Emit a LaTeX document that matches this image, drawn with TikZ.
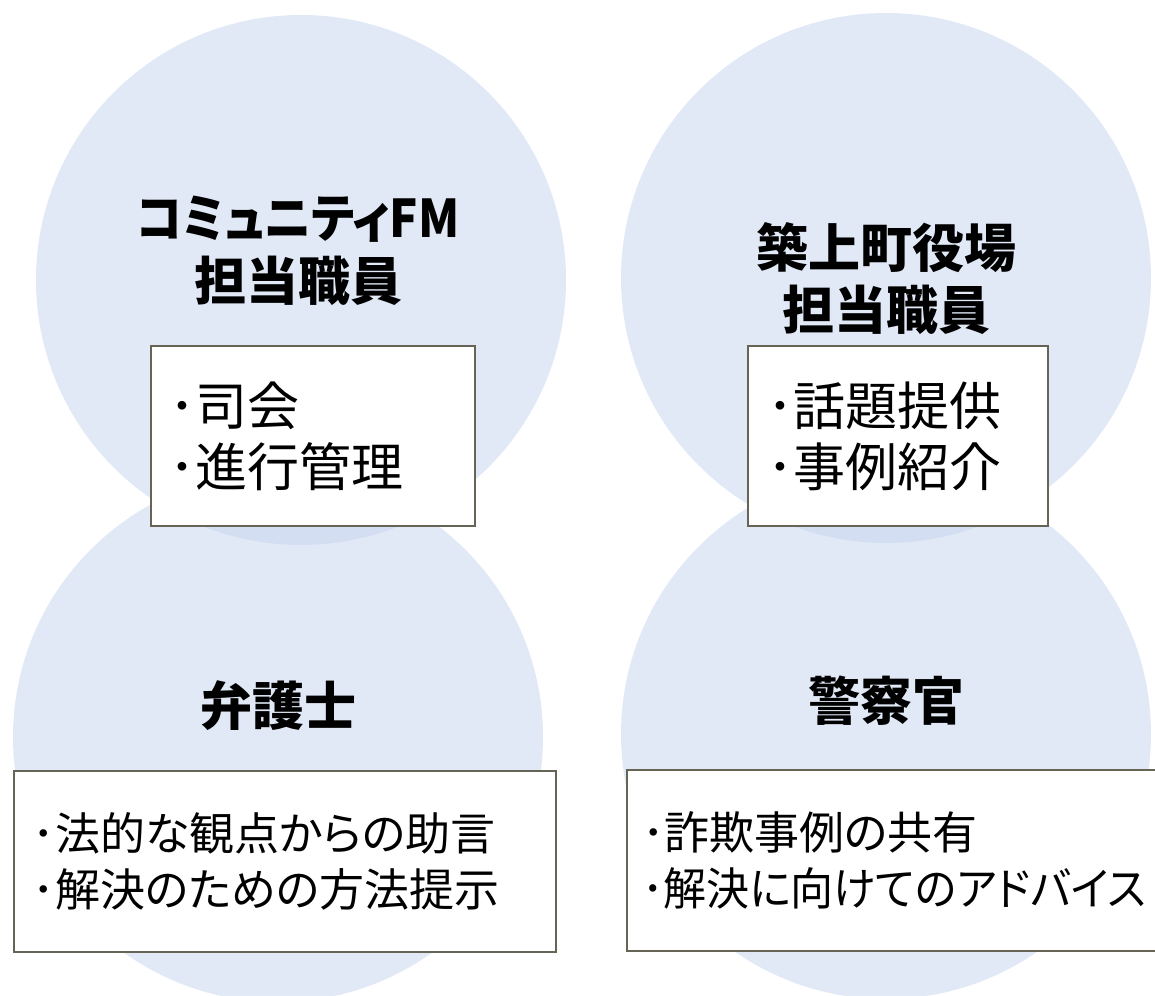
\documentclass[tikz,border=0pt]{standalone}
\usepackage{fontspec}
\usetikzlibrary{shadows}
\newfontfamily\jpfont[RawFeature=+palt]{Noto Sans CJK JP}
\definecolor{bubblecol}{RGB}{199,213,239}
\definecolor{boxline}{RGB}{102,100,84}
\begin{document}
\begin{tikzpicture}[x=1pt,y=-1pt,
  bubble/.style={circle, fill=bubblecol, fill opacity=0.5, draw=none, minimum size=530pt, inner sep=0pt},
  title/.style={font=\jpfont\bfseries\fontsize{52}{63}\selectfont, align=center, text=black, inner sep=0pt},
  infobox/.style={draw=boxline, line width=1.1pt, fill=white, align=left, inner ysep=0pt,
     drop shadow={shadow xshift=1pt, shadow yshift=-1.2pt, opacity=0.35, fill=black!70}},
  bigtext/.style={font=\jpfont\fontsize{52}{61}\selectfont},
  smalltext/.style={font=\jpfont\fontsize{45}{56}\selectfont}
]
\useasboundingbox (0,0) rectangle (1155,995);
\fill[white] (0,0) rectangle (1155,995);

\node[bubble] (c1) at (301,280) {};
\node[bubble] (c2) at (886,278) {};
\node[bubble] (c3) at (278,737) {};
\node[bubble] (c4) at (886,734) {};

\node[title] (t1) at (298,251) {\scalebox{0.905}[1]{コミュニティFM}\\担当職員};
\node[title, font=\jpfont\bfseries\fontsize{52}{62}\selectfont] (t2) at (886,279) {築上町役場\\担当職員};
\node[title] (t3) at (278,706) {弁護士};
\node[title] (t4) at (886,701) {警察官};

\node[infobox, bigtext, inner xsep=18pt, text width=288pt, minimum height=180pt] (b1) at (313,436)
  {\rule{0pt}{8pt}･司会\\･進行管理};
\node[infobox, bigtext, inner xsep=19pt, text width=262pt, minimum height=180pt] (b2) at (898,436)
  {･話題提供\\･事例紹介};
\node[infobox, smalltext, inner xsep=18.5pt, text width=505pt, minimum height=181pt] (b3) at (285,861.5)
  {･法的な観点からの助言\\･解決のための方法提示};
\node[infobox, smalltext, inner xsep=15pt, text width=508pt, minimum height=181pt] (b4) at (896,860.5)
  {･詐欺事例の共有\\\scalebox{0.955}[1]{･解決に向けてのアドバイス}};
\end{tikzpicture}
\end{document}
